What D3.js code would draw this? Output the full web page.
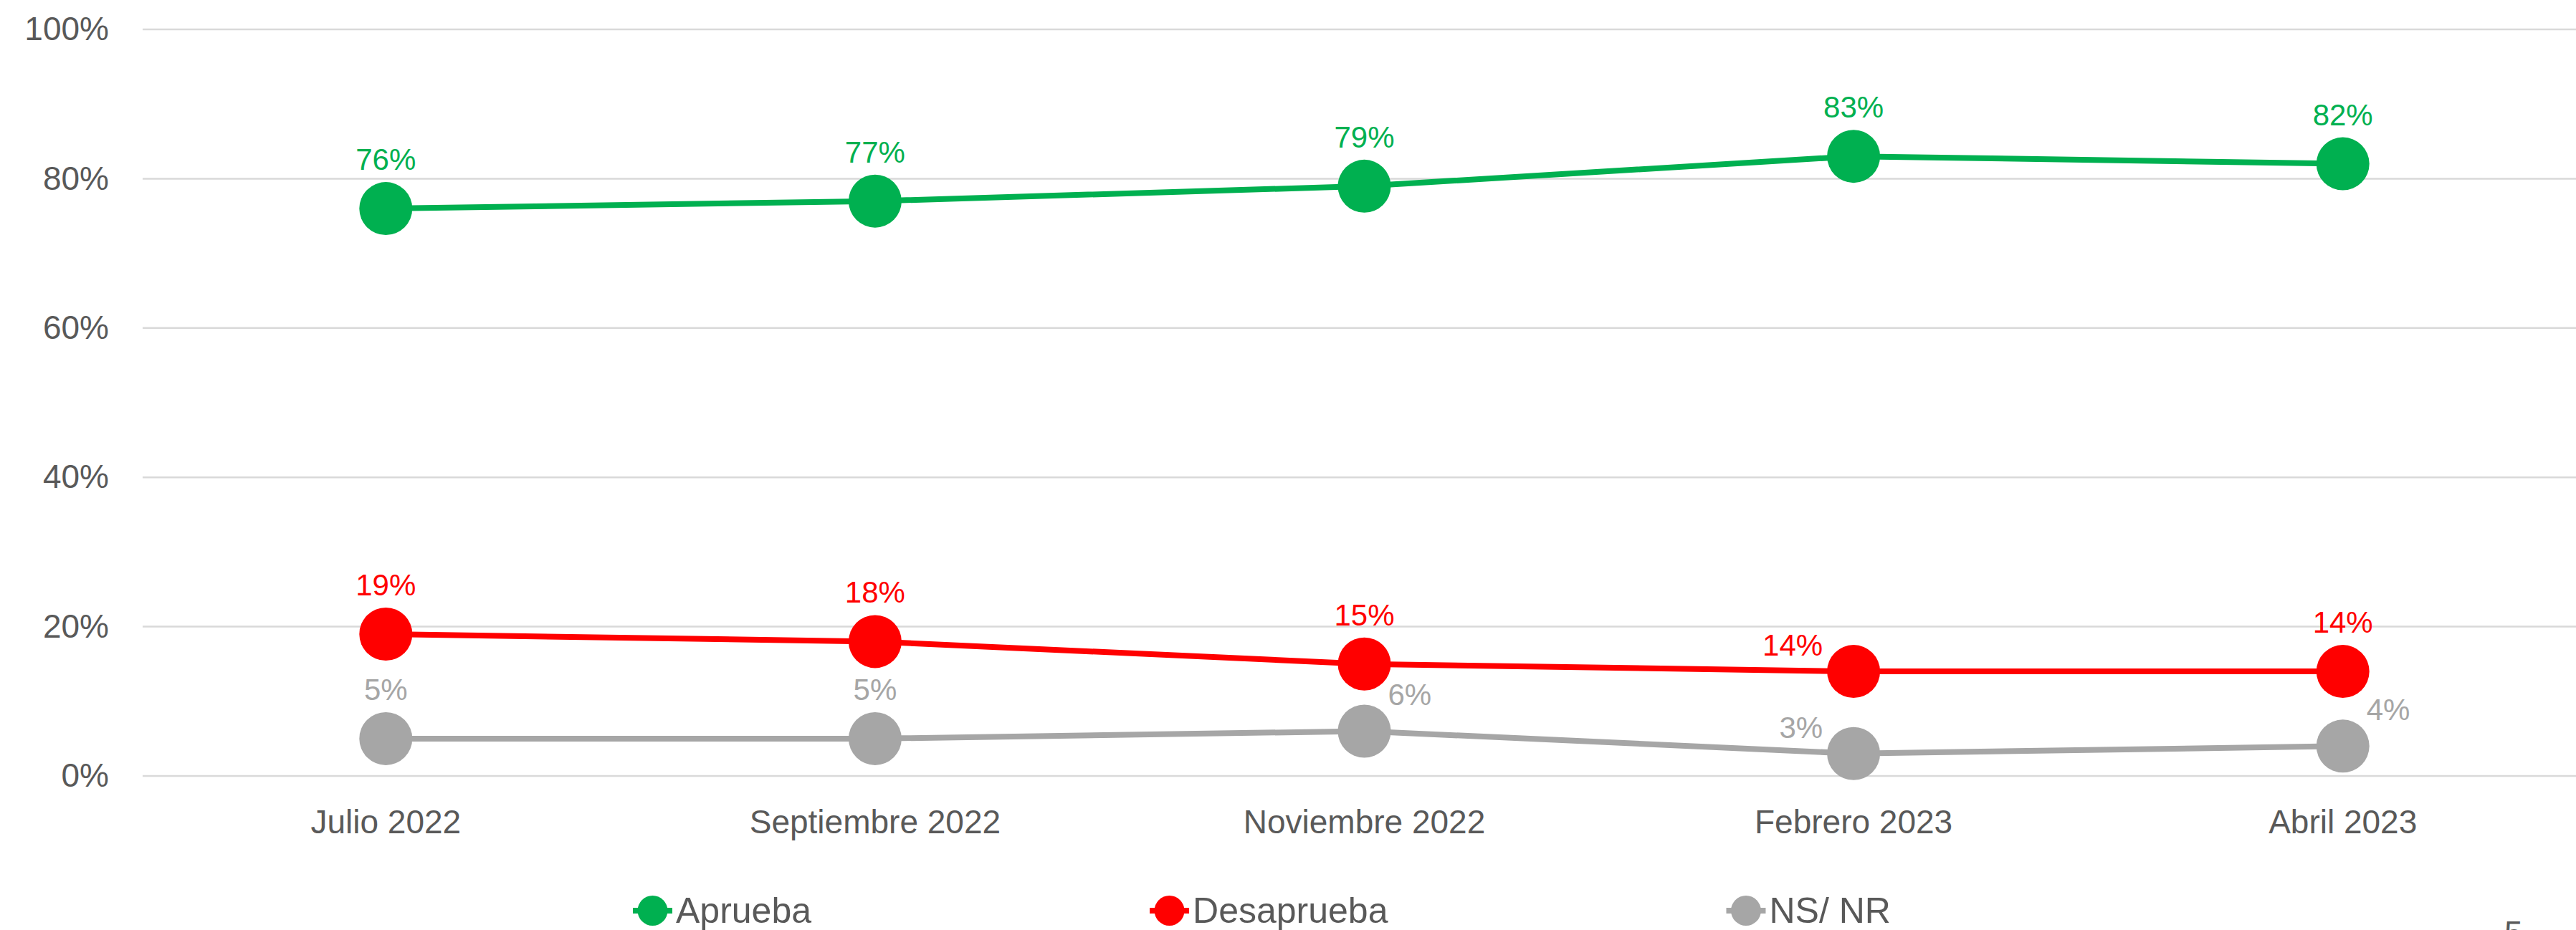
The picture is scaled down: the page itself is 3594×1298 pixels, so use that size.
<!DOCTYPE html>
<html>
<head>
<meta charset="utf-8">
<script src="https://cdn.jsdelivr.net/npm/d3@7"></script>
<style>
  body { margin: 0; background: #fff; }
  text { font-family: "Liberation Sans", Arial, sans-serif; }
</style>
</head>
<body>
<div id="chart-area"></div>
<script>
// data
var months = ["Julio 2022", "Septiembre 2022", "Noviembre 2022", "Febrero 2023", "Abril 2023"];
var aprueba = [76, 77, 79, 83, 82];
var desaprueba = [19, 18, 15, 14, 14];
var nsnr = [5, 5, 6, 3, 4];
var yTicks = [0, 20, 40, 60, 80, 100];
var seriesNames = ["Aprueba", "Desaprueba", "NS/ NR"];

var series = [
  {name: seriesNames[0], values: aprueba, color: "#00B050", labelPos: ["top", "top", "top", "top", "top"]},
  {name: seriesNames[1], values: desaprueba, color: "#FF0000", labelPos: ["top", "top", "top", "left", "top"]},
  {name: seriesNames[2], values: nsnr, color: "#A6A6A6", labelPos: ["top", "top", "right", "left", "right"]}
];

var W = 3594, H = 1298;
var r = 37;

var svg = d3.select("#chart-area")
  .append("svg")
    .attr("width", W)
    .attr("height", H);

var x = d3.scaleBand()
  .domain(months)
  .range([197, 3610])
  .paddingInner(0);

var y = d3.scaleLinear()
  .domain([0, 100])
  .range([1083, 41]);

// gridlines
svg.append("g")
  .selectAll("line")
  .data(yTicks)
  .enter()
  .append("line")
    .attr("x1", 199)
    .attr("x2", W)
    .attr("y1", function(d) { return y(d); })
    .attr("y2", function(d) { return y(d); })
    .attr("stroke", "#d9d9d9")
    .attr("stroke-width", 2.5);

// y axis
var yAxis = svg.append("g")
  .attr("transform", "translate(152,0)")
  .call(d3.axisLeft(y).tickValues(yTicks).tickSize(0).tickPadding(0).tickFormat(function(d) { return d + "%"; }));
yAxis.select(".domain").remove();
yAxis.selectAll("text")
  .style("font-size", "46px")
  .style("font-family", "'Liberation Sans', Arial, sans-serif")
  .attr("fill", "#595959");

// x axis
var xAxis = svg.append("g")
  .attr("transform", "translate(0,1083)")
  .call(d3.axisBottom(x).tickSize(0).tickPadding(0));
xAxis.select(".domain").remove();
xAxis.selectAll("text")
  .attr("dy", null)
  .attr("y", 80)
  .style("font-size", "46px")
  .style("font-family", "'Liberation Sans', Arial, sans-serif")
  .attr("fill", "#595959");

function cx(i) { return x(months[i]) + x.bandwidth() / 2; }

var line = d3.line()
  .x(function(d, i) { return cx(i); })
  .y(function(d) { return y(d); });

// lines, markers, labels
series.forEach(function(s) {
  var g = svg.append("g");
  g.append("path")
    .datum(s.values)
    .attr("d", line)
    .attr("fill", "none")
    .attr("stroke", s.color)
    .attr("stroke-width", 8);

  g.selectAll("circle")
    .data(s.values)
    .enter()
    .append("circle")
      .attr("cx", function(d, i) { return cx(i); })
      .attr("cy", function(d) { return y(d); })
      .attr("r", r)
      .attr("fill", s.color);

  g.selectAll("text")
    .data(s.values)
    .enter()
    .append("text")
      .attr("x", function(d, i) {
        var p = s.labelPos[i];
        if (p == "left") return cx(i) - 43;
        if (p == "right") return cx(i) + 33;
        return cx(i);
      })
      .attr("y", function(d, i) {
        var p = s.labelPos[i];
        if (p == "left") return y(d) - 22;
        if (p == "right") return y(d) - 36;
        return y(d) - r - 17;
      })
      .attr("text-anchor", function(d, i) {
        var p = s.labelPos[i];
        return p == "left" ? "end" : (p == "right" ? "start" : "middle");
      })
      .attr("fill", s.color)
      .style("font-size", "42px")
      .text(function(d) { return d + "%"; });
});

// legend
var lx = 883;
series.forEach(function(s) {
  var lg = svg.append("g").attr("transform", "translate(" + lx + ",1271)");
  lg.append("line")
    .attr("x1", 0).attr("x2", 55)
    .attr("stroke", s.color)
    .attr("stroke-width", 8);
  lg.append("circle")
    .attr("cx", 27.5)
    .attr("r", 21)
    .attr("fill", s.color);
  var t = lg.append("text")
    .attr("x", 60)
    .attr("y", 17)
    .attr("fill", "#595959")
    .style("font-size", "50px")
    .text(s.name);
  lx += 60 + t.node().getComputedTextLength() + 472;
});

// page number (cut off at the bottom edge, as in the reference)
svg.append("text")
  .attr("x", 3494)
  .attr("y", 1318)
  .attr("fill", "#595959")
  .style("font-size", "46px")
  .text("5");
</script>
</body>
</html>
